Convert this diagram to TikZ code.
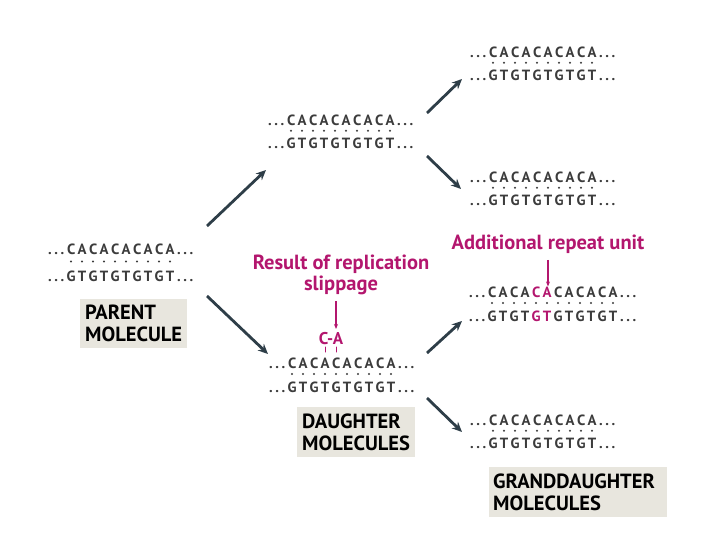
\documentclass[tikz,border=0pt]{standalone}
\usepackage{fontspec}
\setmainfont{PT Sans}
\usetikzlibrary{arrows.meta,calc}
\definecolor{seqgray}{HTML}{3C3C3C}
\definecolor{slip}{HTML}{B3166E}
\definecolor{arrowgray}{HTML}{2E3E48}
\definecolor{boxfill}{HTML}{E8E6DE}
% each base sits in an 11pt slot, so the pairing dots line up
\makeatletter
\newcommand\seq[1]{\@tfor\nt:=#1\do{\makebox[11pt]{\nt}}}
\makeatother
\newcommand\dotsend{.\kern2.6pt.\kern2.6pt.}
\newcommand\lead{\makebox[17.5pt][l]{\dotsend}}
\newcommand\trail{\kern1.5pt\dotsend}

\begin{document}
\begin{tikzpicture}[x=1pt,y=-1pt,>=Stealth,
    line cap=round,line join=round,
    strand/.style={anchor=west,inner sep=0pt,text=seqgray,
      font=\bfseries\fontsize{14.8}{15}\selectfont},
    pinklab/.style={text=slip,align=center,
      font=\bfseries\fontsize{20.5}{21}\selectfont},
    molbox/.style={anchor=north west,fill=boxfill,align=left,
      inner xsep=5pt,inner ysep=0pt,
      font=\bfseries\fontsize{20.5}{22}\selectfont},
    copyarrow/.style={-{Stealth[length=10pt,width=9pt]},line width=2.8pt,
      draw=arrowgray,line cap=butt},
    pinkarrow/.style={-{Stealth[length=5pt,width=4pt]},line width=1.2pt,
      draw=slip,line cap=butt}]
    \useasboundingbox (0,0) rectangle (720,540);

    % Plain duplexes: top strand, base-pair dots, bottom strand.
    \foreach \nm/\x/\y/\gap in {par/48/249/27,dauA/268/120/23.5,
        graA/470/52/23.5,graB/470/177/23.5,dauB/269/363/24,
        graD/470/420/23.5}{
      \node[strand] (\nm-top) at (\x,\y) {\lead\seq{CACACACACA}\trail};
      \node[strand] (\nm-bot) at (\x,\y+\gap) {\lead\seq{GTGTGTGTGT}\trail};
      \foreach \i in {0,...,9}
        \fill[seqgray] ($(\nm-top.west)+(23+11*\i,0.46*\gap)$) circle (1.1);
    }

    % Granddaughter with the additional repeat unit.
    \node[strand] (graC-top) at (469,292)
      {\lead\seq{CACA}{\color{slip}\seq{CA}}\seq{CACACA}\trail};
    \node[strand] (graC-bot) at (469,316)
      {\lead\seq{GTGT}{\color{slip}\seq{GT}}\seq{GTGTGT}\trail};
    \foreach \i in {0,...,11}
      \fill[seqgray] ($(graC-top.west)+(23+11*\i,11)$) circle (1.1);

    % Molecule labels.
    \node[molbox,minimum width=107pt,minimum height=49pt,text width=97pt]
      (parlab) at (80,299) {PARENT\\MOLECULE};
    \node[molbox,minimum width=118pt,minimum height=50pt,text width=108pt]
      (daulab) at (297,407) {DAUGHTER\\MOLECULES};
    \node[molbox,minimum width=178pt,minimum height=50pt,text width=170pt,
      inner xsep=4pt] (gralab) at (489,467) {GRANDDAUGHTER\\MOLECULES};

    % Replication slippage and the extra repeat.
    \node[pinklab] (slipnote) at (341,275) {Result of replication\\slippage};
    \node[pinklab,font=\bfseries\fontsize{17}{17}\selectfont]
      (ca) at ($(dauB-top.west)+(62,-24)$) {C-A};
    \coordinate (catip) at ($(dauB-top.west)+(67,-34)$);
    \draw[pinkarrow] (slipnote.south -| catip) ++(0,3) -- (catip);
    \foreach \i in {3,4}
      \draw[slip,line width=1pt] ($(dauB-top.west)+(23+11*\i,-16)$) -- ++(0,5);
    \node[pinklab] (addnote) at (548,244) {Additional repeat unit};
    \draw[pinkarrow] (addnote.south) ++(0,3) -- (addnote |- graC-top.north);

    % Replication arrows.
    \coordinate (par-up) at (207,226);   \coordinate (dauA-in) at (266,170);
    \coordinate (par-dn) at (207,296);   \coordinate (dauB-in) at (268,354);
    \coordinate (dauA-up) at (427,113);  \coordinate (graA-in) at (462,79);
    \coordinate (dauA-dn) at (427,156);  \coordinate (graB-in) at (461,189);
    \coordinate (dauB-up) at (427,353);  \coordinate (graC-in) at (462,321);
    \coordinate (dauB-dn) at (427,398);  \coordinate (graD-in) at (462,432);
    \draw[copyarrow] (par-up) -- (dauA-in);
    \draw[copyarrow] (par-dn) -- (dauB-in);
    \draw[copyarrow] (dauA-up) -- (graA-in);
    \draw[copyarrow] (dauA-dn) -- (graB-in);
    \draw[copyarrow] (dauB-up) -- (graC-in);
    \draw[copyarrow] (dauB-dn) -- (graD-in);
\end{tikzpicture}
\end{document}
